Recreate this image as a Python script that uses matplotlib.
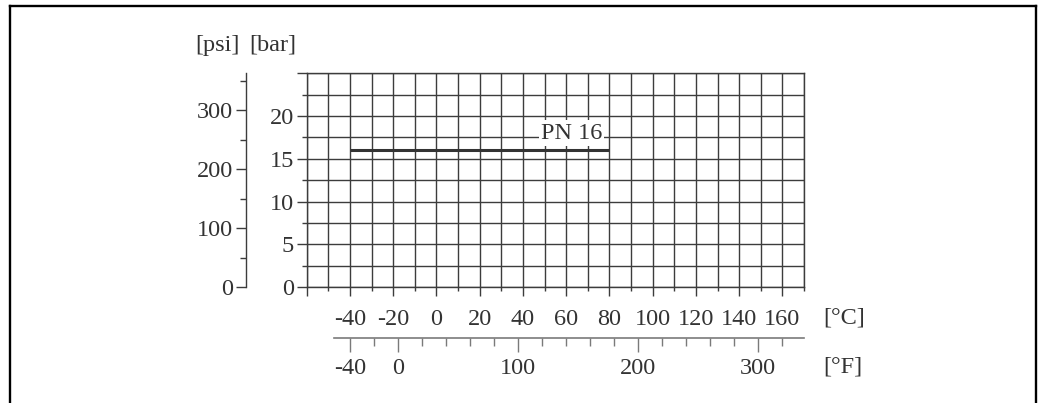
import matplotlib
matplotlib.use("Agg")
import matplotlib.pyplot as plt
from matplotlib.ticker import FixedLocator, FixedFormatter, NullFormatter
from matplotlib.lines import Line2D

# ---- data ----
pn_label = "PN 16"
pn_temp_c = [-40, 80]
pn_pressure_bar = [16, 16]

c_major = [-60, -40, -20, 0, 20, 40, 60, 80, 100, 120, 140, 160]
c_major_labels = ["", "-40", "-20", "0", "20", "40", "60", "80", "100", "120", "140", "160"]
c_minor = [-50, -30, -10, 10, 30, 50, 70, 90, 110, 130, 150, 170]

bar_major = [0, 5, 10, 15, 20, 25]
bar_major_labels = ["0", "5", "10", "15", "20", ""]
bar_minor = [2.5, 7.5, 12.5, 17.5, 22.5]

psi_major = [0, 100, 200, 300]
psi_major_labels = ["0", "100", "200", "300"]
psi_minor = [50, 150, 250, 350]

f_major = [-40, 0, 100, 200, 300]
f_major_labels = ["-40", "0", "100", "200", "300"]
f_minor = [-20, 20, 40, 60, 80, 120, 140, 160, 180, 220, 240, 260, 280, 320]

PSI_PER_BAR = 14.5038

# ---- style ----
W, H = 1042, 403
plt.rcParams['font.family'] = ['Liberation Serif', 'DejaVu Serif']
TXT = '#333333'
GRID = '#3c3c3c'
FS = 17.5

fig = plt.figure(figsize=(W / 100, H / 100), dpi=100)

def fx(px):
    return px / W

def fy(py):
    return 1 - py / H

left, right, top, bottom = 306.7, 804.0, 73.2, 287.3
ax = fig.add_axes([fx(left), fy(bottom), fx(right) - fx(left), fy(top) - fy(bottom)])
ax.set_xlim(-60, 170)
ax.set_ylim(0, 25)

for s in ax.spines.values():
    s.set_color(GRID)
    s.set_linewidth(1.0)

ax.xaxis.set_major_locator(FixedLocator(c_major))
ax.xaxis.set_major_formatter(FixedFormatter(c_major_labels))
ax.xaxis.set_minor_locator(FixedLocator(c_minor))
ax.yaxis.set_major_locator(FixedLocator(bar_major))
ax.yaxis.set_major_formatter(FixedFormatter(bar_major_labels))
ax.yaxis.set_minor_locator(FixedLocator(bar_minor))

ax.grid(True, which='both', color=GRID, linewidth=1.0)
ax.set_axisbelow(True)

ax.tick_params(axis='x', which='major', length=6.8, width=1.0, color=GRID,
               labelsize=FS, labelcolor=TXT, pad=8.5)
ax.tick_params(axis='x', which='minor', length=3.2, width=1.0, color=GRID)
ax.tick_params(axis='y', which='major', length=7.2, width=1.0, color=GRID,
               labelsize=FS, labelcolor=TXT, pad=2)
ax.tick_params(axis='y', which='minor', length=3.6, width=1.0, color=GRID)

# PN line
ax.plot(pn_temp_c, pn_pressure_bar, color='#333333', linewidth=2.2,
        solid_capstyle='butt', zorder=3)
ax.text(62.5, 18.0, pn_label, ha='center', va='center', fontsize=FS, color=TXT,
        bbox=dict(facecolor='white', edgecolor='none', pad=1.5), zorder=4)

# psi axis
psi_loc = (245.7 - left) / (right - left)
sec_y = ax.secondary_yaxis(psi_loc, functions=(lambda b: b * PSI_PER_BAR,
                                               lambda p: p / PSI_PER_BAR))
sec_y.yaxis.set_major_locator(FixedLocator(psi_major))
sec_y.yaxis.set_major_formatter(FixedFormatter(psi_major_labels))
sec_y.yaxis.set_minor_locator(FixedLocator(psi_minor))
sec_y.yaxis.set_minor_formatter(NullFormatter())
sec_y.spines['left'].set_color(GRID)
sec_y.spines['left'].set_linewidth(1.0)
sec_y.tick_params(axis='y', which='major', length=7.2, width=1.0, color=GRID,
                  labelsize=FS, labelcolor=TXT, pad=2)
sec_y.tick_params(axis='y', which='minor', length=4.3, width=1.0, color=GRID)

# Fahrenheit axis
f_loc = -(338.3 - bottom) / (bottom - top)
sec_x = ax.secondary_xaxis(f_loc, functions=(lambda c: c * 9 / 5 + 32,
                                             lambda f: (f - 32) * 5 / 9))
sec_x.xaxis.set_major_locator(FixedLocator(f_major))
sec_x.xaxis.set_major_formatter(FixedFormatter(f_major_labels))
sec_x.xaxis.set_minor_locator(FixedLocator(f_minor))
sec_x.xaxis.set_minor_formatter(NullFormatter())
FCOL = '#7a7a7a'
sec_x.spines['bottom'].set_color(FCOL)
sec_x.spines['bottom'].set_linewidth(1.2)
sec_x.spines['bottom'].set_bounds(-47.5 * 9 / 5 + 32, 170 * 9 / 5 + 32)
sec_x.tick_params(axis='x', which='major', length=10, width=1.0, color=FCOL,
                  labelsize=FS, labelcolor=TXT, pad=4.5)
sec_x.tick_params(axis='x', which='minor', length=5.5, width=1.0, color=FCOL)

# unit labels
fig.text(fx(823), fy(318.3), "[°C]", ha='left', va='center', fontsize=FS, color=TXT)
fig.text(fx(823), fy(367.3), "[°F]", ha='left', va='center', fontsize=FS, color=TXT)
fig.text(fx(240), fy(45), "[psi]", ha='right', va='center', fontsize=FS, color=TXT)
fig.text(fx(296), fy(45), "[bar]", ha='right', va='center', fontsize=FS, color=TXT)

# frame
BL = 1.7
fig.add_artist(Line2D([fx(10.2), fx(10.2)], [fy(5.7), 0], transform=fig.transFigure,
                      color='black', linewidth=BL))
fig.add_artist(Line2D([fx(1035.5), fx(1035.5)], [fy(5.7), 0], transform=fig.transFigure,
                      color='black', linewidth=BL))
fig.add_artist(Line2D([fx(10.2), fx(1035.5)], [fy(5.7), fy(5.7)], transform=fig.transFigure,
                      color='black', linewidth=BL, solid_capstyle='projecting'))

fig.savefig("out.png", dpi=100, facecolor='white')
